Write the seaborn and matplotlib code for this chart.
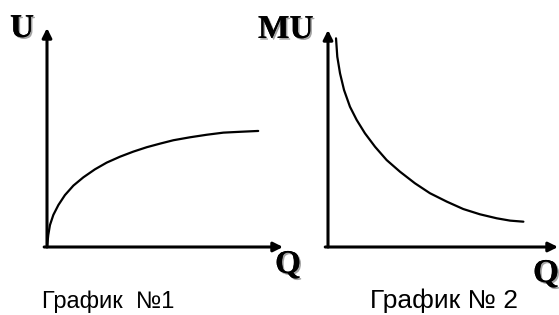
import numpy as np
import pandas as pd
import matplotlib
matplotlib.use("Agg")
import matplotlib.pyplot as plt
import matplotlib.patheffects as pe
import seaborn as sns

# ======================
# Data (arbitrary units)
# ======================

# Graph 1: total utility U(Q)
q_total = [0.0, 0.06, 0.14, 0.30, 0.54, 0.85, 1.25, 1.72, 2.27, 2.83,
           3.46, 4.09, 4.73, 5.36, 5.99, 6.78, 7.57, 8.36, 9.15, 10.01]
u_total = [0.0, 0.57, 1.04, 1.52, 1.99, 2.46, 2.91, 3.30, 3.68, 4.00,
           4.28, 4.52, 4.73, 4.90, 5.06, 5.20, 5.32, 5.42, 5.46, 5.50]

# Graph 2: marginal utility MU(Q)
q_marg = [0.38, 0.44, 0.57, 0.76, 1.04, 1.36, 1.75, 2.23, 2.78,
          3.41, 4.12, 4.83, 5.63, 6.41, 7.20, 8.00, 8.63, 9.26]
mu_marg = [9.89, 9.02, 8.23, 7.44, 6.65, 6.02, 5.39, 4.75, 4.12,
           3.57, 3.02, 2.55, 2.15, 1.80, 1.55, 1.36, 1.25, 1.20]

captions = ["График  №1", "График № 2"]
y_labels = ["U", "MU"]
x_label = "Q"

df_total = pd.DataFrame({"Q": q_total, "U": u_total})
df_marg = pd.DataFrame({"Q": q_marg, "MU": mu_marg})

# ======================
# Figure
# ======================
sns.set_theme(style="white")
plt.rcParams["font.family"] = ["Liberation Sans", "DejaVu Sans"]

W, H = 559, 315
fig = plt.figure(figsize=(W / 100, H / 100), dpi=100)
unit = 21.1  # pixels per data unit


def panel(x0, y0, x1, y1):
    # axes placed by pixel box (origin at x0, y0; arrow tips at x1 / y1)
    ax = fig.add_axes([x0 / W, 1 - y0 / H, (x1 - x0) / W, (y0 - y1) / H])
    ax.set_xlim(0, (x1 - x0) / unit)
    ax.set_ylim(0, (y0 - y1) / unit)
    ax.set_axis_off()
    arrow = dict(arrowstyle="-|>", color="black", lw=2.2, mutation_scale=14,
                 shrinkA=0, shrinkB=0)
    ax.annotate("", xy=(1, 0), xytext=(-0.012, 0), xycoords="axes fraction",
                arrowprops=arrow, annotation_clip=False)
    ax.annotate("", xy=(0, 1), xytext=(0, 0), xycoords="axes fraction",
                arrowprops=arrow, annotation_clip=False)
    return ax


ax1 = panel(47, 247, 283, 28)
sns.lineplot(data=df_total, x="Q", y="U", ax=ax1, color="black", lw=1.6,
             sort=False, estimator=None)

ax2 = panel(328, 247, 558, 30)
sns.lineplot(data=df_marg, x="Q", y="MU", ax=ax2, color="black", lw=1.6,
             sort=False, estimator=None)

shadow = [pe.withSimplePatchShadow(offset=(1.2, -1.2), shadow_rgbFace="0.55",
                                   alpha=0.8), pe.Normal()]
label_kw = dict(family=["Liberation Serif", "DejaVu Serif"], weight="bold",
                fontsize=24, color="black", path_effects=shadow,
                va="baseline", ha="left")


def fig_text(x, y, s, **kw):
    fig.text(x / W, 1 - y / H, s, **kw)


fig_text(10, 37, y_labels[0], **label_kw)
fig_text(258, 38, y_labels[1], **label_kw)
fig_text(275, 273, x_label, **label_kw)
fig_text(533, 282, x_label, **label_kw)

cap_kw = dict(color="black", va="baseline", ha="left",
              family=["Liberation Sans", "DejaVu Sans"])
fig_text(42, 308, captions[0], fontsize=17, **cap_kw)
fig_text(370, 308, captions[1], fontsize=19, **cap_kw)

plt.savefig("out.png", dpi=100, facecolor="white")
